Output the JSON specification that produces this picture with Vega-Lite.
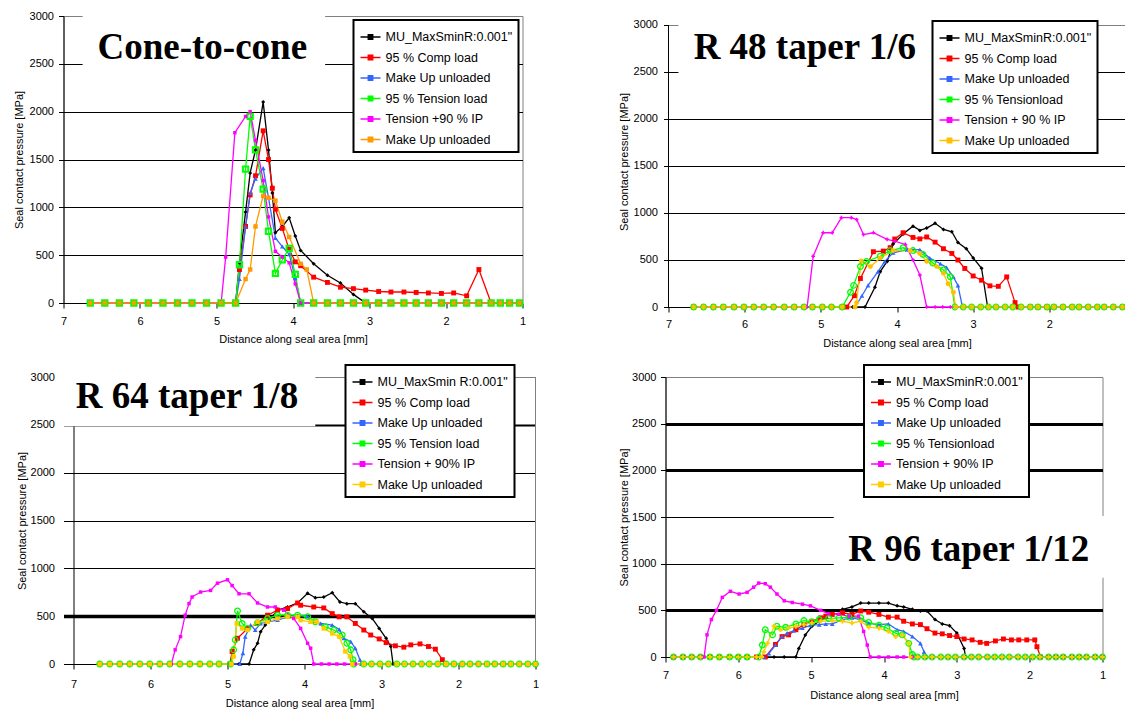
{
"$schema": "https://vega.github.io/schema/vega-lite/v6.json",
"background": "white",
"padding": {"top": 9, "left": 12.5, "right": 0, "bottom": 0},
"config": {"view": {"stroke": "#808080"}, "font": "Liberation Sans",
 "axis": {"labelFont": "Liberation Sans", "titleFont": "Liberation Sans", "labelFontSize": 11, "titleFontSize": 11, "titleFontWeight": "normal", "labelColor": "black", "titleColor": "black", "domainColor": "black", "tickColor": "black", "tickSize": 5, "labelFlush": false},
 "legend": {"orient": "none", "direction": "vertical", "symbolType": "M-1,0L1,0M-0.22,-0.22L0.22,-0.22L0.22,0.22L-0.22,0.22Z", "symbolSize": 400, "symbolStrokeWidth": 1.5, "labelFont": "Liberation Sans", "labelFontSize": 12.5, "labelColor": "black", "labelOffset": 4, "labelLimit": 300, "padding": 6, "rowPadding": 2.5, "strokeColor": "black", "strokeWidth": 2, "fillColor": "white", "cornerRadius": 0}},
"datasets": {
"p1": [
{"s":"a","x":6.65,"y":0},{"s":"a","x":6.46,"y":0},{"s":"a","x":6.27,"y":0},{"s":"a","x":6.08,"y":0},{"s":"a","x":5.89,"y":0},{"s":"a","x":5.7,"y":0},{"s":"a","x":5.51,"y":0},{"s":"a","x":5.32,"y":0},{"s":"a","x":5.13,"y":0},{"s":"a","x":4.94,"y":0},{"s":"a","x":4.75,"y":0},{"s":"a","x":4.7,"y":420},{"s":"a","x":4.62,"y":950},{"s":"a","x":4.56,"y":1360},{"s":"a","x":4.49,"y":1600},{"s":"a","x":4.39,"y":2100},{"s":"a","x":4.32,"y":1600},{"s":"a","x":4.27,"y":1150},{"s":"a","x":4.23,"y":735},{"s":"a","x":4.14,"y":800},{"s":"a","x":4.05,"y":890},{"s":"a","x":3.97,"y":700},{"s":"a","x":3.9,"y":550},{"s":"a","x":3.73,"y":410},{"s":"a","x":3.55,"y":290},{"s":"a","x":3.38,"y":210},{"s":"a","x":3.21,"y":90},{"s":"a","x":3.05,"y":0},{"s":"a","x":2.88,"y":0},{"s":"a","x":2.72,"y":0},{"s":"a","x":2.55,"y":0},{"s":"a","x":2.39,"y":0},{"s":"a","x":2.23,"y":0},{"s":"a","x":2.06,"y":0},{"s":"a","x":1.9,"y":0},{"s":"a","x":1.73,"y":0},{"s":"a","x":1.57,"y":0},{"s":"a","x":1.41,"y":0},{"s":"a","x":1.29,"y":0},{"s":"a","x":1.17,"y":0},{"s":"a","x":1.04,"y":0},
{"s":"b","x":6.65,"y":0},{"s":"b","x":6.46,"y":0},{"s":"b","x":6.27,"y":0},{"s":"b","x":6.08,"y":0},{"s":"b","x":5.89,"y":0},{"s":"b","x":5.7,"y":0},{"s":"b","x":5.51,"y":0},{"s":"b","x":5.32,"y":0},{"s":"b","x":5.13,"y":0},{"s":"b","x":4.94,"y":0},{"s":"b","x":4.75,"y":0},{"s":"b","x":4.7,"y":350},{"s":"b","x":4.62,"y":800},{"s":"b","x":4.56,"y":1130},{"s":"b","x":4.49,"y":1330},{"s":"b","x":4.39,"y":1800},{"s":"b","x":4.32,"y":1500},{"s":"b","x":4.27,"y":1200},{"s":"b","x":4.23,"y":980},{"s":"b","x":4.14,"y":780},{"s":"b","x":4.05,"y":560},{"s":"b","x":3.97,"y":430},{"s":"b","x":3.9,"y":390},{"s":"b","x":3.73,"y":270},{"s":"b","x":3.55,"y":215},{"s":"b","x":3.38,"y":165},{"s":"b","x":3.21,"y":150},{"s":"b","x":3.05,"y":135},{"s":"b","x":2.88,"y":120},{"s":"b","x":2.72,"y":115},{"s":"b","x":2.55,"y":115},{"s":"b","x":2.39,"y":110},{"s":"b","x":2.23,"y":105},{"s":"b","x":2.06,"y":100},{"s":"b","x":1.9,"y":105},{"s":"b","x":1.73,"y":75},{"s":"b","x":1.57,"y":350},{"s":"b","x":1.41,"y":0},{"s":"b","x":1.29,"y":0},{"s":"b","x":1.17,"y":0},{"s":"b","x":1.04,"y":0},
{"s":"c","x":6.65,"y":0},{"s":"c","x":6.46,"y":0},{"s":"c","x":6.27,"y":0},{"s":"c","x":6.08,"y":0},{"s":"c","x":5.89,"y":0},{"s":"c","x":5.7,"y":0},{"s":"c","x":5.51,"y":0},{"s":"c","x":5.32,"y":0},{"s":"c","x":5.13,"y":0},{"s":"c","x":4.94,"y":0},{"s":"c","x":4.75,"y":0},{"s":"c","x":4.7,"y":250},{"s":"c","x":4.62,"y":800},{"s":"c","x":4.56,"y":1150},{"s":"c","x":4.49,"y":1300},{"s":"c","x":4.39,"y":1410},{"s":"c","x":4.32,"y":1100},{"s":"c","x":4.23,"y":680},{"s":"c","x":4.14,"y":590},{"s":"c","x":4.05,"y":510},{"s":"c","x":3.97,"y":260},{"s":"c","x":3.9,"y":0},{"s":"c","x":3.73,"y":0},{"s":"c","x":3.55,"y":0},{"s":"c","x":3.38,"y":0},{"s":"c","x":3.21,"y":0},{"s":"c","x":3.05,"y":0},{"s":"c","x":2.88,"y":0},{"s":"c","x":2.72,"y":0},{"s":"c","x":2.55,"y":0},{"s":"c","x":2.39,"y":0},{"s":"c","x":2.23,"y":0},{"s":"c","x":2.06,"y":0},{"s":"c","x":1.9,"y":0},{"s":"c","x":1.73,"y":0},{"s":"c","x":1.57,"y":0},{"s":"c","x":1.41,"y":0},{"s":"c","x":1.29,"y":0},{"s":"c","x":1.17,"y":0},{"s":"c","x":1.04,"y":0},
{"s":"d","x":6.65,"y":0},{"s":"d","x":6.46,"y":0},{"s":"d","x":6.27,"y":0},{"s":"d","x":6.08,"y":0},{"s":"d","x":5.89,"y":0},{"s":"d","x":5.7,"y":0},{"s":"d","x":5.51,"y":0},{"s":"d","x":5.32,"y":0},{"s":"d","x":5.13,"y":0},{"s":"d","x":4.94,"y":0},{"s":"d","x":4.75,"y":0},{"s":"d","x":4.7,"y":400},{"s":"d","x":4.62,"y":1400},{"s":"d","x":4.56,"y":1950},{"s":"d","x":4.49,"y":1600},{"s":"d","x":4.39,"y":1190},{"s":"d","x":4.32,"y":750},{"s":"d","x":4.23,"y":310},{"s":"d","x":4.14,"y":450},{"s":"d","x":4.05,"y":570},{"s":"d","x":3.97,"y":300},{"s":"d","x":3.9,"y":0},{"s":"d","x":3.73,"y":0},{"s":"d","x":3.55,"y":0},{"s":"d","x":3.38,"y":0},{"s":"d","x":3.21,"y":0},{"s":"d","x":3.05,"y":0},{"s":"d","x":2.88,"y":0},{"s":"d","x":2.72,"y":0},{"s":"d","x":2.55,"y":0},{"s":"d","x":2.39,"y":0},{"s":"d","x":2.23,"y":0},{"s":"d","x":2.06,"y":0},{"s":"d","x":1.9,"y":0},{"s":"d","x":1.73,"y":0},{"s":"d","x":1.57,"y":0},{"s":"d","x":1.41,"y":0},{"s":"d","x":1.29,"y":0},{"s":"d","x":1.17,"y":0},{"s":"d","x":1.04,"y":0},
{"s":"e","x":6.65,"y":0},{"s":"e","x":6.46,"y":0},{"s":"e","x":6.27,"y":0},{"s":"e","x":6.08,"y":0},{"s":"e","x":5.89,"y":0},{"s":"e","x":5.7,"y":0},{"s":"e","x":5.51,"y":0},{"s":"e","x":5.32,"y":0},{"s":"e","x":5.13,"y":0},{"s":"e","x":4.94,"y":0},{"s":"e","x":4.88,"y":480},{"s":"e","x":4.76,"y":1780},{"s":"e","x":4.62,"y":1950},{"s":"e","x":4.56,"y":2000},{"s":"e","x":4.49,"y":1700},{"s":"e","x":4.39,"y":1280},{"s":"e","x":4.32,"y":900},{"s":"e","x":4.23,"y":540},{"s":"e","x":4.14,"y":480},{"s":"e","x":4.05,"y":420},{"s":"e","x":3.97,"y":200},{"s":"e","x":3.9,"y":0},{"s":"e","x":3.73,"y":0},{"s":"e","x":3.55,"y":0},{"s":"e","x":3.38,"y":0},{"s":"e","x":3.21,"y":0},{"s":"e","x":3.05,"y":0},{"s":"e","x":2.88,"y":0},{"s":"e","x":2.72,"y":0},{"s":"e","x":2.55,"y":0},{"s":"e","x":2.39,"y":0},{"s":"e","x":2.23,"y":0},{"s":"e","x":2.06,"y":0},{"s":"e","x":1.9,"y":0},{"s":"e","x":1.73,"y":0},{"s":"e","x":1.57,"y":0},{"s":"e","x":1.41,"y":0},{"s":"e","x":1.29,"y":0},{"s":"e","x":1.17,"y":0},{"s":"e","x":1.04,"y":0},
{"s":"f","x":6.65,"y":0},{"s":"f","x":6.46,"y":0},{"s":"f","x":6.27,"y":0},{"s":"f","x":6.08,"y":0},{"s":"f","x":5.89,"y":0},{"s":"f","x":5.7,"y":0},{"s":"f","x":5.51,"y":0},{"s":"f","x":5.32,"y":0},{"s":"f","x":5.13,"y":0},{"s":"f","x":4.94,"y":0},{"s":"f","x":4.75,"y":0},{"s":"f","x":4.62,"y":250},{"s":"f","x":4.56,"y":350},{"s":"f","x":4.49,"y":800},{"s":"f","x":4.39,"y":1120},{"s":"f","x":4.32,"y":1100},{"s":"f","x":4.23,"y":1070},{"s":"f","x":4.14,"y":850},{"s":"f","x":4.05,"y":690},{"s":"f","x":3.9,"y":410},{"s":"f","x":3.82,"y":350},{"s":"f","x":3.73,"y":0},{"s":"f","x":3.55,"y":0},{"s":"f","x":3.38,"y":0},{"s":"f","x":3.21,"y":0},{"s":"f","x":3.05,"y":0},{"s":"f","x":2.88,"y":0},{"s":"f","x":2.72,"y":0},{"s":"f","x":2.55,"y":0},{"s":"f","x":2.39,"y":0},{"s":"f","x":2.23,"y":0},{"s":"f","x":2.06,"y":0},{"s":"f","x":1.9,"y":0},{"s":"f","x":1.73,"y":0},{"s":"f","x":1.57,"y":0},{"s":"f","x":1.41,"y":0},{"s":"f","x":1.29,"y":0},{"s":"f","x":1.17,"y":0},{"s":"f","x":1.04,"y":0}
],
"p2": [
{"s":"a","x":6.67,"y":0},{"s":"a","x":6.54,"y":0},{"s":"a","x":6.41,"y":0},{"s":"a","x":6.28,"y":0},{"s":"a","x":6.14,"y":0},{"s":"a","x":6.01,"y":0},{"s":"a","x":5.88,"y":0},{"s":"a","x":5.75,"y":0},{"s":"a","x":5.62,"y":0},{"s":"a","x":5.48,"y":0},{"s":"a","x":5.35,"y":0},{"s":"a","x":5.22,"y":0},{"s":"a","x":5.11,"y":0},{"s":"a","x":4.98,"y":0},{"s":"a","x":4.86,"y":0},{"s":"a","x":4.72,"y":0},{"s":"a","x":4.58,"y":0},{"s":"a","x":4.42,"y":0},{"s":"a","x":4.29,"y":210},{"s":"a","x":4.22,"y":376},{"s":"a","x":4.13,"y":485},{"s":"a","x":4.05,"y":670},{"s":"a","x":3.92,"y":777},{"s":"a","x":3.79,"y":860},{"s":"a","x":3.7,"y":815},{"s":"a","x":3.61,"y":840},{"s":"a","x":3.5,"y":890},{"s":"a","x":3.39,"y":825},{"s":"a","x":3.28,"y":800},{"s":"a","x":3.2,"y":686},{"s":"a","x":3.09,"y":620},{"s":"a","x":3.0,"y":522},{"s":"a","x":2.89,"y":412},{"s":"a","x":2.81,"y":0},{"s":"a","x":2.7,"y":0},{"s":"a","x":2.58,"y":0},{"s":"a","x":2.48,"y":0},{"s":"a","x":2.37,"y":0},{"s":"a","x":2.25,"y":0},{"s":"a","x":2.15,"y":0},{"s":"a","x":2.03,"y":0},{"s":"a","x":1.94,"y":0},{"s":"a","x":1.82,"y":0},{"s":"a","x":1.7,"y":0},{"s":"a","x":1.61,"y":0},{"s":"a","x":1.49,"y":0},{"s":"a","x":1.37,"y":0},{"s":"a","x":1.28,"y":0},{"s":"a","x":1.16,"y":0},{"s":"a","x":1.04,"y":0},
{"s":"b","x":6.67,"y":0},{"s":"b","x":6.54,"y":0},{"s":"b","x":6.41,"y":0},{"s":"b","x":6.28,"y":0},{"s":"b","x":6.14,"y":0},{"s":"b","x":6.01,"y":0},{"s":"b","x":5.88,"y":0},{"s":"b","x":5.75,"y":0},{"s":"b","x":5.62,"y":0},{"s":"b","x":5.48,"y":0},{"s":"b","x":5.35,"y":0},{"s":"b","x":5.22,"y":0},{"s":"b","x":5.11,"y":0},{"s":"b","x":4.98,"y":0},{"s":"b","x":4.86,"y":0},{"s":"b","x":4.72,"y":0},{"s":"b","x":4.66,"y":0},{"s":"b","x":4.56,"y":120},{"s":"b","x":4.48,"y":303},{"s":"b","x":4.31,"y":588},{"s":"b","x":4.18,"y":595},{"s":"b","x":4.09,"y":631},{"s":"b","x":4.03,"y":723},{"s":"b","x":3.92,"y":790},{"s":"b","x":3.79,"y":740},{"s":"b","x":3.7,"y":725},{"s":"b","x":3.61,"y":745},{"s":"b","x":3.5,"y":690},{"s":"b","x":3.39,"y":620},{"s":"b","x":3.28,"y":570},{"s":"b","x":3.2,"y":500},{"s":"b","x":3.11,"y":410},{"s":"b","x":3.0,"y":330},{"s":"b","x":2.89,"y":285},{"s":"b","x":2.78,"y":225},{"s":"b","x":2.67,"y":220},{"s":"b","x":2.56,"y":320},{"s":"b","x":2.45,"y":47},{"s":"b","x":2.41,"y":0},{"s":"b","x":2.25,"y":0},{"s":"b","x":2.15,"y":0},{"s":"b","x":2.03,"y":0},{"s":"b","x":1.94,"y":0},{"s":"b","x":1.82,"y":0},{"s":"b","x":1.7,"y":0},{"s":"b","x":1.61,"y":0},{"s":"b","x":1.49,"y":0},{"s":"b","x":1.37,"y":0},{"s":"b","x":1.28,"y":0},{"s":"b","x":1.16,"y":0},{"s":"b","x":1.04,"y":0},
{"s":"c","x":6.67,"y":0},{"s":"c","x":6.54,"y":0},{"s":"c","x":6.41,"y":0},{"s":"c","x":6.28,"y":0},{"s":"c","x":6.14,"y":0},{"s":"c","x":6.01,"y":0},{"s":"c","x":5.88,"y":0},{"s":"c","x":5.75,"y":0},{"s":"c","x":5.62,"y":0},{"s":"c","x":5.48,"y":0},{"s":"c","x":5.35,"y":0},{"s":"c","x":5.22,"y":0},{"s":"c","x":5.11,"y":0},{"s":"c","x":4.98,"y":0},{"s":"c","x":4.86,"y":0},{"s":"c","x":4.72,"y":0},{"s":"c","x":4.55,"y":0},{"s":"c","x":4.46,"y":120},{"s":"c","x":4.38,"y":230},{"s":"c","x":4.25,"y":376},{"s":"c","x":4.16,"y":485},{"s":"c","x":4.05,"y":577},{"s":"c","x":3.87,"y":610},{"s":"c","x":3.7,"y":610},{"s":"c","x":3.57,"y":520},{"s":"c","x":3.43,"y":460},{"s":"c","x":3.35,"y":420},{"s":"c","x":3.26,"y":321},{"s":"c","x":3.2,"y":230},{"s":"c","x":3.14,"y":0},{"s":"c","x":3.02,"y":0},{"s":"c","x":2.9,"y":0},{"s":"c","x":2.8,"y":0},{"s":"c","x":2.7,"y":0},{"s":"c","x":2.58,"y":0},{"s":"c","x":2.48,"y":0},{"s":"c","x":2.37,"y":0},{"s":"c","x":2.25,"y":0},{"s":"c","x":2.15,"y":0},{"s":"c","x":2.03,"y":0},{"s":"c","x":1.94,"y":0},{"s":"c","x":1.82,"y":0},{"s":"c","x":1.7,"y":0},{"s":"c","x":1.61,"y":0},{"s":"c","x":1.49,"y":0},{"s":"c","x":1.37,"y":0},{"s":"c","x":1.28,"y":0},{"s":"c","x":1.16,"y":0},{"s":"c","x":1.04,"y":0},
{"s":"d","x":6.67,"y":0},{"s":"d","x":6.54,"y":0},{"s":"d","x":6.41,"y":0},{"s":"d","x":6.28,"y":0},{"s":"d","x":6.14,"y":0},{"s":"d","x":6.01,"y":0},{"s":"d","x":5.88,"y":0},{"s":"d","x":5.75,"y":0},{"s":"d","x":5.62,"y":0},{"s":"d","x":5.48,"y":0},{"s":"d","x":5.35,"y":0},{"s":"d","x":5.22,"y":0},{"s":"d","x":5.11,"y":0},{"s":"d","x":4.98,"y":0},{"s":"d","x":4.86,"y":0},{"s":"d","x":4.72,"y":0},{"s":"d","x":4.61,"y":157},{"s":"d","x":4.57,"y":230},{"s":"d","x":4.48,"y":430},{"s":"d","x":4.4,"y":485},{"s":"d","x":4.22,"y":540},{"s":"d","x":4.09,"y":600},{"s":"d","x":3.92,"y":630},{"s":"d","x":3.79,"y":600},{"s":"d","x":3.66,"y":560},{"s":"d","x":3.53,"y":467},{"s":"d","x":3.39,"y":394},{"s":"d","x":3.3,"y":321},{"s":"d","x":3.24,"y":0},{"s":"d","x":3.13,"y":0},{"s":"d","x":3.02,"y":0},{"s":"d","x":2.9,"y":0},{"s":"d","x":2.8,"y":0},{"s":"d","x":2.7,"y":0},{"s":"d","x":2.58,"y":0},{"s":"d","x":2.48,"y":0},{"s":"d","x":2.37,"y":0},{"s":"d","x":2.25,"y":0},{"s":"d","x":2.15,"y":0},{"s":"d","x":2.03,"y":0},{"s":"d","x":1.94,"y":0},{"s":"d","x":1.82,"y":0},{"s":"d","x":1.7,"y":0},{"s":"d","x":1.61,"y":0},{"s":"d","x":1.49,"y":0},{"s":"d","x":1.37,"y":0},{"s":"d","x":1.28,"y":0},{"s":"d","x":1.16,"y":0},{"s":"d","x":1.04,"y":0},
{"s":"e","x":6.67,"y":0},{"s":"e","x":6.54,"y":0},{"s":"e","x":6.41,"y":0},{"s":"e","x":6.28,"y":0},{"s":"e","x":6.14,"y":0},{"s":"e","x":6.01,"y":0},{"s":"e","x":5.88,"y":0},{"s":"e","x":5.75,"y":0},{"s":"e","x":5.62,"y":0},{"s":"e","x":5.48,"y":0},{"s":"e","x":5.35,"y":0},{"s":"e","x":5.22,"y":0},{"s":"e","x":5.18,"y":0},{"s":"e","x":5.1,"y":540},{"s":"e","x":4.97,"y":790},{"s":"e","x":4.85,"y":790},{"s":"e","x":4.73,"y":950},{"s":"e","x":4.6,"y":950},{"s":"e","x":4.53,"y":930},{"s":"e","x":4.44,"y":770},{"s":"e","x":4.31,"y":790},{"s":"e","x":4.13,"y":720},{"s":"e","x":4.03,"y":700},{"s":"e","x":3.89,"y":665},{"s":"e","x":3.79,"y":500},{"s":"e","x":3.7,"y":340},{"s":"e","x":3.61,"y":0},{"s":"e","x":3.5,"y":0},{"s":"e","x":3.4,"y":0},{"s":"e","x":3.3,"y":0},{"s":"e","x":3.22,"y":0},{"s":"e","x":3.13,"y":0},{"s":"e","x":3.02,"y":0},{"s":"e","x":2.9,"y":0},{"s":"e","x":2.8,"y":0},{"s":"e","x":2.7,"y":0},{"s":"e","x":2.58,"y":0},{"s":"e","x":2.48,"y":0},{"s":"e","x":2.37,"y":0},{"s":"e","x":2.25,"y":0},{"s":"e","x":2.15,"y":0},{"s":"e","x":2.03,"y":0},{"s":"e","x":1.94,"y":0},{"s":"e","x":1.82,"y":0},{"s":"e","x":1.7,"y":0},{"s":"e","x":1.61,"y":0},{"s":"e","x":1.49,"y":0},{"s":"e","x":1.37,"y":0},{"s":"e","x":1.28,"y":0},{"s":"e","x":1.16,"y":0},{"s":"e","x":1.04,"y":0},
{"s":"f","x":6.67,"y":0},{"s":"f","x":6.54,"y":0},{"s":"f","x":6.41,"y":0},{"s":"f","x":6.28,"y":0},{"s":"f","x":6.14,"y":0},{"s":"f","x":6.01,"y":0},{"s":"f","x":5.88,"y":0},{"s":"f","x":5.75,"y":0},{"s":"f","x":5.62,"y":0},{"s":"f","x":5.48,"y":0},{"s":"f","x":5.35,"y":0},{"s":"f","x":5.22,"y":0},{"s":"f","x":5.11,"y":0},{"s":"f","x":4.98,"y":0},{"s":"f","x":4.86,"y":0},{"s":"f","x":4.72,"y":0},{"s":"f","x":4.55,"y":0},{"s":"f","x":4.53,"y":47},{"s":"f","x":4.47,"y":490},{"s":"f","x":4.35,"y":430},{"s":"f","x":4.22,"y":522},{"s":"f","x":4.05,"y":600},{"s":"f","x":3.83,"y":600},{"s":"f","x":3.7,"y":570},{"s":"f","x":3.61,"y":485},{"s":"f","x":3.48,"y":430},{"s":"f","x":3.39,"y":358},{"s":"f","x":3.33,"y":248},{"s":"f","x":3.26,"y":157},{"s":"f","x":3.23,"y":0},{"s":"f","x":3.13,"y":0},{"s":"f","x":3.02,"y":0},{"s":"f","x":2.9,"y":0},{"s":"f","x":2.8,"y":0},{"s":"f","x":2.7,"y":0},{"s":"f","x":2.58,"y":0},{"s":"f","x":2.48,"y":0},{"s":"f","x":2.37,"y":0},{"s":"f","x":2.25,"y":0},{"s":"f","x":2.15,"y":0},{"s":"f","x":2.03,"y":0},{"s":"f","x":1.94,"y":0},{"s":"f","x":1.82,"y":0},{"s":"f","x":1.7,"y":0},{"s":"f","x":1.61,"y":0},{"s":"f","x":1.49,"y":0},{"s":"f","x":1.37,"y":0},{"s":"f","x":1.28,"y":0},{"s":"f","x":1.16,"y":0},{"s":"f","x":1.04,"y":0}
],
"p3": [
{"s":"a","x":6.66,"y":0},{"s":"a","x":6.53,"y":0},{"s":"a","x":6.4,"y":0},{"s":"a","x":6.27,"y":0},{"s":"a","x":6.14,"y":0},{"s":"a","x":6.01,"y":0},{"s":"a","x":5.88,"y":0},{"s":"a","x":5.75,"y":0},{"s":"a","x":5.62,"y":0},{"s":"a","x":5.49,"y":0},{"s":"a","x":5.36,"y":0},{"s":"a","x":5.23,"y":0},{"s":"a","x":5.11,"y":0},{"s":"a","x":4.98,"y":0},{"s":"a","x":4.85,"y":0},{"s":"a","x":4.72,"y":0},{"s":"a","x":4.66,"y":148},{"s":"a","x":4.61,"y":217},{"s":"a","x":4.57,"y":338},{"s":"a","x":4.51,"y":407},{"s":"a","x":4.46,"y":459},{"s":"a","x":4.35,"y":562},{"s":"a","x":4.22,"y":596},{"s":"a","x":4.09,"y":638},{"s":"a","x":3.96,"y":740},{"s":"a","x":3.86,"y":693},{"s":"a","x":3.75,"y":700},{"s":"a","x":3.64,"y":745},{"s":"a","x":3.54,"y":648},{"s":"a","x":3.45,"y":631},{"s":"a","x":3.34,"y":631},{"s":"a","x":3.23,"y":545},{"s":"a","x":3.12,"y":476},{"s":"a","x":3.03,"y":372},{"s":"a","x":2.94,"y":269},{"s":"a","x":2.88,"y":183},{"s":"a","x":2.85,"y":0},{"s":"a","x":2.7,"y":0},{"s":"a","x":2.59,"y":0},{"s":"a","x":2.48,"y":0},{"s":"a","x":2.38,"y":0},{"s":"a","x":2.27,"y":0},{"s":"a","x":2.16,"y":0},{"s":"a","x":2.06,"y":0},{"s":"a","x":1.95,"y":0},{"s":"a","x":1.85,"y":0},{"s":"a","x":1.74,"y":0},{"s":"a","x":1.63,"y":0},{"s":"a","x":1.53,"y":0},{"s":"a","x":1.42,"y":0},{"s":"a","x":1.32,"y":0},{"s":"a","x":1.21,"y":0},{"s":"a","x":1.1,"y":0},{"s":"a","x":1.0,"y":0},
{"s":"b","x":6.66,"y":0},{"s":"b","x":6.53,"y":0},{"s":"b","x":6.4,"y":0},{"s":"b","x":6.27,"y":0},{"s":"b","x":6.14,"y":0},{"s":"b","x":6.01,"y":0},{"s":"b","x":5.88,"y":0},{"s":"b","x":5.75,"y":0},{"s":"b","x":5.62,"y":0},{"s":"b","x":5.49,"y":0},{"s":"b","x":5.36,"y":0},{"s":"b","x":5.23,"y":0},{"s":"b","x":5.11,"y":0},{"s":"b","x":4.97,"y":0},{"s":"b","x":4.94,"y":131},{"s":"b","x":4.87,"y":269},{"s":"b","x":4.74,"y":372},{"s":"b","x":4.61,"y":424},{"s":"b","x":4.48,"y":510},{"s":"b","x":4.35,"y":562},{"s":"b","x":4.22,"y":579},{"s":"b","x":4.09,"y":638},{"s":"b","x":4.05,"y":614},{"s":"b","x":3.88,"y":596},{"s":"b","x":3.75,"y":586},{"s":"b","x":3.64,"y":527},{"s":"b","x":3.55,"y":493},{"s":"b","x":3.45,"y":493},{"s":"b","x":3.34,"y":424},{"s":"b","x":3.23,"y":355},{"s":"b","x":3.14,"y":303},{"s":"b","x":3.03,"y":262},{"s":"b","x":2.94,"y":224},{"s":"b","x":2.82,"y":190},{"s":"b","x":2.71,"y":176},{"s":"b","x":2.62,"y":200},{"s":"b","x":2.5,"y":210},{"s":"b","x":2.39,"y":183},{"s":"b","x":2.3,"y":155},{"s":"b","x":2.21,"y":45},{"s":"b","x":2.17,"y":0},{"s":"b","x":2.06,"y":0},{"s":"b","x":1.95,"y":0},{"s":"b","x":1.85,"y":0},{"s":"b","x":1.74,"y":0},{"s":"b","x":1.63,"y":0},{"s":"b","x":1.53,"y":0},{"s":"b","x":1.42,"y":0},{"s":"b","x":1.32,"y":0},{"s":"b","x":1.21,"y":0},{"s":"b","x":1.1,"y":0},{"s":"b","x":1.0,"y":0},
{"s":"c","x":6.66,"y":0},{"s":"c","x":6.53,"y":0},{"s":"c","x":6.4,"y":0},{"s":"c","x":6.27,"y":0},{"s":"c","x":6.14,"y":0},{"s":"c","x":6.01,"y":0},{"s":"c","x":5.88,"y":0},{"s":"c","x":5.75,"y":0},{"s":"c","x":5.62,"y":0},{"s":"c","x":5.49,"y":0},{"s":"c","x":5.36,"y":0},{"s":"c","x":5.23,"y":0},{"s":"c","x":5.11,"y":0},{"s":"c","x":4.98,"y":0},{"s":"c","x":4.84,"y":0},{"s":"c","x":4.8,"y":114},{"s":"c","x":4.77,"y":286},{"s":"c","x":4.7,"y":407},{"s":"c","x":4.64,"y":355},{"s":"c","x":4.57,"y":424},{"s":"c","x":4.48,"y":441},{"s":"c","x":4.35,"y":459},{"s":"c","x":4.22,"y":493},{"s":"c","x":4.09,"y":510},{"s":"c","x":3.96,"y":500},{"s":"c","x":3.92,"y":441},{"s":"c","x":3.79,"y":424},{"s":"c","x":3.64,"y":407},{"s":"c","x":3.55,"y":362},{"s":"c","x":3.49,"y":269},{"s":"c","x":3.4,"y":234},{"s":"c","x":3.34,"y":165},{"s":"c","x":3.28,"y":45},{"s":"c","x":3.26,"y":0},{"s":"c","x":3.13,"y":0},{"s":"c","x":3.02,"y":0},{"s":"c","x":2.91,"y":0},{"s":"c","x":2.8,"y":0},{"s":"c","x":2.7,"y":0},{"s":"c","x":2.59,"y":0},{"s":"c","x":2.48,"y":0},{"s":"c","x":2.38,"y":0},{"s":"c","x":2.27,"y":0},{"s":"c","x":2.16,"y":0},{"s":"c","x":2.06,"y":0},{"s":"c","x":1.95,"y":0},{"s":"c","x":1.85,"y":0},{"s":"c","x":1.74,"y":0},{"s":"c","x":1.63,"y":0},{"s":"c","x":1.53,"y":0},{"s":"c","x":1.42,"y":0},{"s":"c","x":1.32,"y":0},{"s":"c","x":1.21,"y":0},{"s":"c","x":1.1,"y":0},{"s":"c","x":1.0,"y":0},
{"s":"d","x":6.66,"y":0},{"s":"d","x":6.53,"y":0},{"s":"d","x":6.4,"y":0},{"s":"d","x":6.27,"y":0},{"s":"d","x":6.14,"y":0},{"s":"d","x":6.01,"y":0},{"s":"d","x":5.88,"y":0},{"s":"d","x":5.75,"y":0},{"s":"d","x":5.62,"y":0},{"s":"d","x":5.49,"y":0},{"s":"d","x":5.36,"y":0},{"s":"d","x":5.23,"y":0},{"s":"d","x":5.11,"y":0},{"s":"d","x":4.96,"y":0},{"s":"d","x":4.92,"y":148},{"s":"d","x":4.9,"y":252},{"s":"d","x":4.87,"y":555},{"s":"d","x":4.81,"y":424},{"s":"d","x":4.74,"y":372},{"s":"d","x":4.61,"y":431},{"s":"d","x":4.48,"y":476},{"s":"d","x":4.35,"y":510},{"s":"d","x":4.22,"y":510},{"s":"d","x":4.09,"y":510},{"s":"d","x":3.96,"y":495},{"s":"d","x":3.86,"y":441},{"s":"d","x":3.73,"y":390},{"s":"d","x":3.62,"y":355},{"s":"d","x":3.51,"y":303},{"s":"d","x":3.45,"y":217},{"s":"d","x":3.4,"y":148},{"s":"d","x":3.37,"y":45},{"s":"d","x":3.36,"y":0},{"s":"d","x":3.23,"y":0},{"s":"d","x":3.13,"y":0},{"s":"d","x":3.02,"y":0},{"s":"d","x":2.91,"y":0},{"s":"d","x":2.8,"y":0},{"s":"d","x":2.7,"y":0},{"s":"d","x":2.59,"y":0},{"s":"d","x":2.48,"y":0},{"s":"d","x":2.38,"y":0},{"s":"d","x":2.27,"y":0},{"s":"d","x":2.16,"y":0},{"s":"d","x":2.06,"y":0},{"s":"d","x":1.95,"y":0},{"s":"d","x":1.85,"y":0},{"s":"d","x":1.74,"y":0},{"s":"d","x":1.63,"y":0},{"s":"d","x":1.53,"y":0},{"s":"d","x":1.42,"y":0},{"s":"d","x":1.32,"y":0},{"s":"d","x":1.21,"y":0},{"s":"d","x":1.1,"y":0},{"s":"d","x":1.0,"y":0},
{"s":"e","x":6.66,"y":0},{"s":"e","x":6.53,"y":0},{"s":"e","x":6.4,"y":0},{"s":"e","x":6.27,"y":0},{"s":"e","x":6.14,"y":0},{"s":"e","x":6.01,"y":0},{"s":"e","x":5.88,"y":0},{"s":"e","x":5.73,"y":0},{"s":"e","x":5.68,"y":148},{"s":"e","x":5.61,"y":286},{"s":"e","x":5.55,"y":510},{"s":"e","x":5.5,"y":631},{"s":"e","x":5.46,"y":700},{"s":"e","x":5.35,"y":752},{"s":"e","x":5.22,"y":769},{"s":"e","x":5.13,"y":845},{"s":"e","x":5.0,"y":880},{"s":"e","x":4.94,"y":820},{"s":"e","x":4.85,"y":734},{"s":"e","x":4.72,"y":734},{"s":"e","x":4.61,"y":638},{"s":"e","x":4.48,"y":596},{"s":"e","x":4.38,"y":596},{"s":"e","x":4.27,"y":562},{"s":"e","x":4.14,"y":476},{"s":"e","x":4.05,"y":372},{"s":"e","x":3.96,"y":217},{"s":"e","x":3.92,"y":165},{"s":"e","x":3.88,"y":0},{"s":"e","x":3.78,"y":0},{"s":"e","x":3.68,"y":0},{"s":"e","x":3.58,"y":0},{"s":"e","x":3.48,"y":0},{"s":"e","x":3.34,"y":0},{"s":"e","x":3.23,"y":0},{"s":"e","x":3.13,"y":0},{"s":"e","x":3.02,"y":0},{"s":"e","x":2.91,"y":0},{"s":"e","x":2.8,"y":0},{"s":"e","x":2.7,"y":0},{"s":"e","x":2.59,"y":0},{"s":"e","x":2.48,"y":0},{"s":"e","x":2.38,"y":0},{"s":"e","x":2.27,"y":0},{"s":"e","x":2.16,"y":0},{"s":"e","x":2.06,"y":0},{"s":"e","x":1.95,"y":0},{"s":"e","x":1.85,"y":0},{"s":"e","x":1.74,"y":0},{"s":"e","x":1.63,"y":0},{"s":"e","x":1.53,"y":0},{"s":"e","x":1.42,"y":0},{"s":"e","x":1.32,"y":0},{"s":"e","x":1.21,"y":0},{"s":"e","x":1.1,"y":0},{"s":"e","x":1.0,"y":0},
{"s":"f","x":6.66,"y":0},{"s":"f","x":6.53,"y":0},{"s":"f","x":6.4,"y":0},{"s":"f","x":6.27,"y":0},{"s":"f","x":6.14,"y":0},{"s":"f","x":6.01,"y":0},{"s":"f","x":5.88,"y":0},{"s":"f","x":5.75,"y":0},{"s":"f","x":5.62,"y":0},{"s":"f","x":5.49,"y":0},{"s":"f","x":5.36,"y":0},{"s":"f","x":5.23,"y":0},{"s":"f","x":5.11,"y":0},{"s":"f","x":4.95,"y":0},{"s":"f","x":4.92,"y":79},{"s":"f","x":4.88,"y":424},{"s":"f","x":4.81,"y":372},{"s":"f","x":4.74,"y":355},{"s":"f","x":4.61,"y":441},{"s":"f","x":4.48,"y":441},{"s":"f","x":4.35,"y":476},{"s":"f","x":4.22,"y":493},{"s":"f","x":4.09,"y":493},{"s":"f","x":4.05,"y":459},{"s":"f","x":3.92,"y":441},{"s":"f","x":3.84,"y":441},{"s":"f","x":3.75,"y":372},{"s":"f","x":3.64,"y":320},{"s":"f","x":3.55,"y":286},{"s":"f","x":3.47,"y":131},{"s":"f","x":3.41,"y":79},{"s":"f","x":3.38,"y":0},{"s":"f","x":3.23,"y":0},{"s":"f","x":3.13,"y":0},{"s":"f","x":3.02,"y":0},{"s":"f","x":2.91,"y":0},{"s":"f","x":2.8,"y":0},{"s":"f","x":2.7,"y":0},{"s":"f","x":2.59,"y":0},{"s":"f","x":2.48,"y":0},{"s":"f","x":2.38,"y":0},{"s":"f","x":2.27,"y":0},{"s":"f","x":2.16,"y":0},{"s":"f","x":2.06,"y":0},{"s":"f","x":1.95,"y":0},{"s":"f","x":1.85,"y":0},{"s":"f","x":1.74,"y":0},{"s":"f","x":1.63,"y":0},{"s":"f","x":1.53,"y":0},{"s":"f","x":1.42,"y":0},{"s":"f","x":1.32,"y":0},{"s":"f","x":1.21,"y":0},{"s":"f","x":1.1,"y":0},{"s":"f","x":1.0,"y":0}
],
"p4": [
{"s":"a","x":6.89,"y":0},{"s":"a","x":6.76,"y":0},{"s":"a","x":6.64,"y":0},{"s":"a","x":6.52,"y":0},{"s":"a","x":6.39,"y":0},{"s":"a","x":6.26,"y":0},{"s":"a","x":6.12,"y":0},{"s":"a","x":6.0,"y":0},{"s":"a","x":5.88,"y":0},{"s":"a","x":5.75,"y":0},{"s":"a","x":5.63,"y":0},{"s":"a","x":5.51,"y":0},{"s":"a","x":5.37,"y":0},{"s":"a","x":5.21,"y":0},{"s":"a","x":5.17,"y":91},{"s":"a","x":5.08,"y":237},{"s":"a","x":4.99,"y":329},{"s":"a","x":4.89,"y":383},{"s":"a","x":4.8,"y":427},{"s":"a","x":4.71,"y":493},{"s":"a","x":4.57,"y":511},{"s":"a","x":4.44,"y":537},{"s":"a","x":4.32,"y":578},{"s":"a","x":4.21,"y":578},{"s":"a","x":4.07,"y":578},{"s":"a","x":3.94,"y":578},{"s":"a","x":3.82,"y":548},{"s":"a","x":3.73,"y":537},{"s":"a","x":3.61,"y":511},{"s":"a","x":3.5,"y":493},{"s":"a","x":3.41,"y":493},{"s":"a","x":3.3,"y":401},{"s":"a","x":3.2,"y":354},{"s":"a","x":3.1,"y":336},{"s":"a","x":3.0,"y":256},{"s":"a","x":2.9,"y":91},{"s":"a","x":2.88,"y":0},{"s":"a","x":2.8,"y":0},{"s":"a","x":2.7,"y":0},{"s":"a","x":2.58,"y":0},{"s":"a","x":2.48,"y":0},{"s":"a","x":2.38,"y":0},{"s":"a","x":2.28,"y":0},{"s":"a","x":2.16,"y":0},{"s":"a","x":2.06,"y":0},{"s":"a","x":1.96,"y":0},{"s":"a","x":1.86,"y":0},{"s":"a","x":1.74,"y":0},{"s":"a","x":1.64,"y":0},{"s":"a","x":1.54,"y":0},{"s":"a","x":1.42,"y":0},{"s":"a","x":1.32,"y":0},{"s":"a","x":1.22,"y":0},{"s":"a","x":1.1,"y":0},{"s":"a","x":1.0,"y":0},
{"s":"b","x":6.89,"y":0},{"s":"b","x":6.76,"y":0},{"s":"b","x":6.64,"y":0},{"s":"b","x":6.52,"y":0},{"s":"b","x":6.39,"y":0},{"s":"b","x":6.26,"y":0},{"s":"b","x":6.12,"y":0},{"s":"b","x":6.0,"y":0},{"s":"b","x":5.88,"y":0},{"s":"b","x":5.75,"y":0},{"s":"b","x":5.63,"y":0},{"s":"b","x":5.49,"y":135},{"s":"b","x":5.4,"y":219},{"s":"b","x":5.31,"y":237},{"s":"b","x":5.21,"y":292},{"s":"b","x":5.1,"y":347},{"s":"b","x":4.99,"y":383},{"s":"b","x":4.87,"y":420},{"s":"b","x":4.8,"y":438},{"s":"b","x":4.71,"y":456},{"s":"b","x":4.57,"y":474},{"s":"b","x":4.44,"y":456},{"s":"b","x":4.32,"y":493},{"s":"b","x":4.21,"y":480},{"s":"b","x":4.07,"y":456},{"s":"b","x":3.94,"y":427},{"s":"b","x":3.82,"y":427},{"s":"b","x":3.73,"y":383},{"s":"b","x":3.61,"y":354},{"s":"b","x":3.5,"y":347},{"s":"b","x":3.41,"y":303},{"s":"b","x":3.3,"y":256},{"s":"b","x":3.2,"y":248},{"s":"b","x":3.1,"y":230},{"s":"b","x":3.0,"y":219},{"s":"b","x":2.9,"y":193},{"s":"b","x":2.79,"y":183},{"s":"b","x":2.68,"y":157},{"s":"b","x":2.59,"y":146},{"s":"b","x":2.47,"y":172},{"s":"b","x":2.36,"y":193},{"s":"b","x":2.25,"y":183},{"s":"b","x":2.15,"y":183},{"s":"b","x":2.04,"y":183},{"s":"b","x":1.93,"y":183},{"s":"b","x":1.9,"y":110},{"s":"b","x":1.85,"y":0},{"s":"b","x":1.74,"y":0},{"s":"b","x":1.64,"y":0},{"s":"b","x":1.54,"y":0},{"s":"b","x":1.42,"y":0},{"s":"b","x":1.32,"y":0},{"s":"b","x":1.22,"y":0},{"s":"b","x":1.1,"y":0},{"s":"b","x":1.0,"y":0},
{"s":"c","x":6.89,"y":0},{"s":"c","x":6.76,"y":0},{"s":"c","x":6.64,"y":0},{"s":"c","x":6.52,"y":0},{"s":"c","x":6.39,"y":0},{"s":"c","x":6.26,"y":0},{"s":"c","x":6.12,"y":0},{"s":"c","x":6.0,"y":0},{"s":"c","x":5.88,"y":0},{"s":"c","x":5.75,"y":0},{"s":"c","x":5.65,"y":0},{"s":"c","x":5.58,"y":37},{"s":"c","x":5.49,"y":128},{"s":"c","x":5.4,"y":219},{"s":"c","x":5.33,"y":256},{"s":"c","x":5.24,"y":281},{"s":"c","x":5.12,"y":310},{"s":"c","x":5.01,"y":340},{"s":"c","x":4.89,"y":347},{"s":"c","x":4.8,"y":354},{"s":"c","x":4.71,"y":354},{"s":"c","x":4.57,"y":401},{"s":"c","x":4.44,"y":420},{"s":"c","x":4.32,"y":401},{"s":"c","x":4.21,"y":360},{"s":"c","x":4.07,"y":347},{"s":"c","x":3.94,"y":354},{"s":"c","x":3.82,"y":292},{"s":"c","x":3.73,"y":274},{"s":"c","x":3.61,"y":219},{"s":"c","x":3.5,"y":146},{"s":"c","x":3.45,"y":55},{"s":"c","x":3.42,"y":0},{"s":"c","x":3.34,"y":0},{"s":"c","x":3.22,"y":0},{"s":"c","x":3.12,"y":0},{"s":"c","x":3.02,"y":0},{"s":"c","x":2.9,"y":0},{"s":"c","x":2.8,"y":0},{"s":"c","x":2.7,"y":0},{"s":"c","x":2.58,"y":0},{"s":"c","x":2.48,"y":0},{"s":"c","x":2.38,"y":0},{"s":"c","x":2.28,"y":0},{"s":"c","x":2.16,"y":0},{"s":"c","x":2.06,"y":0},{"s":"c","x":1.96,"y":0},{"s":"c","x":1.86,"y":0},{"s":"c","x":1.74,"y":0},{"s":"c","x":1.64,"y":0},{"s":"c","x":1.54,"y":0},{"s":"c","x":1.42,"y":0},{"s":"c","x":1.32,"y":0},{"s":"c","x":1.22,"y":0},{"s":"c","x":1.1,"y":0},{"s":"c","x":1.0,"y":0},
{"s":"d","x":6.89,"y":0},{"s":"d","x":6.76,"y":0},{"s":"d","x":6.64,"y":0},{"s":"d","x":6.52,"y":0},{"s":"d","x":6.39,"y":0},{"s":"d","x":6.26,"y":0},{"s":"d","x":6.12,"y":0},{"s":"d","x":6.0,"y":0},{"s":"d","x":5.88,"y":0},{"s":"d","x":5.72,"y":0},{"s":"d","x":5.67,"y":128},{"s":"d","x":5.63,"y":292},{"s":"d","x":5.53,"y":237},{"s":"d","x":5.47,"y":329},{"s":"d","x":5.35,"y":318},{"s":"d","x":5.21,"y":354},{"s":"d","x":5.1,"y":390},{"s":"d","x":4.99,"y":376},{"s":"d","x":4.89,"y":401},{"s":"d","x":4.76,"y":412},{"s":"d","x":4.62,"y":420},{"s":"d","x":4.48,"y":427},{"s":"d","x":4.32,"y":420},{"s":"d","x":4.21,"y":370},{"s":"d","x":4.07,"y":340},{"s":"d","x":3.96,"y":310},{"s":"d","x":3.84,"y":256},{"s":"d","x":3.75,"y":237},{"s":"d","x":3.66,"y":146},{"s":"d","x":3.61,"y":26},{"s":"d","x":3.59,"y":0},{"s":"d","x":3.54,"y":0},{"s":"d","x":3.44,"y":0},{"s":"d","x":3.34,"y":0},{"s":"d","x":3.22,"y":0},{"s":"d","x":3.12,"y":0},{"s":"d","x":3.02,"y":0},{"s":"d","x":2.9,"y":0},{"s":"d","x":2.8,"y":0},{"s":"d","x":2.7,"y":0},{"s":"d","x":2.58,"y":0},{"s":"d","x":2.48,"y":0},{"s":"d","x":2.38,"y":0},{"s":"d","x":2.28,"y":0},{"s":"d","x":2.16,"y":0},{"s":"d","x":2.06,"y":0},{"s":"d","x":1.96,"y":0},{"s":"d","x":1.86,"y":0},{"s":"d","x":1.74,"y":0},{"s":"d","x":1.64,"y":0},{"s":"d","x":1.54,"y":0},{"s":"d","x":1.42,"y":0},{"s":"d","x":1.32,"y":0},{"s":"d","x":1.22,"y":0},{"s":"d","x":1.1,"y":0},{"s":"d","x":1.0,"y":0},
{"s":"e","x":6.89,"y":0},{"s":"e","x":6.76,"y":0},{"s":"e","x":6.64,"y":0},{"s":"e","x":6.52,"y":0},{"s":"e","x":6.47,"y":0},{"s":"e","x":6.43,"y":237},{"s":"e","x":6.37,"y":401},{"s":"e","x":6.3,"y":500},{"s":"e","x":6.22,"y":639},{"s":"e","x":6.11,"y":704},{"s":"e","x":5.99,"y":675},{"s":"e","x":5.88,"y":693},{"s":"e","x":5.79,"y":748},{"s":"e","x":5.72,"y":792},{"s":"e","x":5.63,"y":785},{"s":"e","x":5.56,"y":748},{"s":"e","x":5.47,"y":675},{"s":"e","x":5.37,"y":602},{"s":"e","x":5.26,"y":584},{"s":"e","x":5.12,"y":566},{"s":"e","x":5.01,"y":548},{"s":"e","x":4.87,"y":500},{"s":"e","x":4.76,"y":464},{"s":"e","x":4.62,"y":456},{"s":"e","x":4.48,"y":438},{"s":"e","x":4.35,"y":438},{"s":"e","x":4.28,"y":274},{"s":"e","x":4.23,"y":128},{"s":"e","x":4.19,"y":0},{"s":"e","x":4.07,"y":0},{"s":"e","x":3.94,"y":0},{"s":"e","x":3.82,"y":0},{"s":"e","x":3.73,"y":0},{"s":"e","x":3.61,"y":0},{"s":"e","x":3.54,"y":0},{"s":"e","x":3.44,"y":0},{"s":"e","x":3.34,"y":0},{"s":"e","x":3.22,"y":0},{"s":"e","x":3.12,"y":0},{"s":"e","x":3.02,"y":0},{"s":"e","x":2.9,"y":0},{"s":"e","x":2.8,"y":0},{"s":"e","x":2.7,"y":0},{"s":"e","x":2.58,"y":0},{"s":"e","x":2.48,"y":0},{"s":"e","x":2.38,"y":0},{"s":"e","x":2.28,"y":0},{"s":"e","x":2.16,"y":0},{"s":"e","x":2.06,"y":0},{"s":"e","x":1.96,"y":0},{"s":"e","x":1.86,"y":0},{"s":"e","x":1.74,"y":0},{"s":"e","x":1.64,"y":0},{"s":"e","x":1.54,"y":0},{"s":"e","x":1.42,"y":0},{"s":"e","x":1.32,"y":0},{"s":"e","x":1.22,"y":0},{"s":"e","x":1.1,"y":0},{"s":"e","x":1.0,"y":0},
{"s":"f","x":6.89,"y":0},{"s":"f","x":6.76,"y":0},{"s":"f","x":6.64,"y":0},{"s":"f","x":6.52,"y":0},{"s":"f","x":6.39,"y":0},{"s":"f","x":6.26,"y":0},{"s":"f","x":6.12,"y":0},{"s":"f","x":6.0,"y":0},{"s":"f","x":5.88,"y":0},{"s":"f","x":5.75,"y":0},{"s":"f","x":5.68,"y":0},{"s":"f","x":5.65,"y":55},{"s":"f","x":5.6,"y":146},{"s":"f","x":5.51,"y":329},{"s":"f","x":5.42,"y":292},{"s":"f","x":5.31,"y":310},{"s":"f","x":5.21,"y":329},{"s":"f","x":5.1,"y":347},{"s":"f","x":4.99,"y":365},{"s":"f","x":4.87,"y":383},{"s":"f","x":4.71,"y":390},{"s":"f","x":4.57,"y":383},{"s":"f","x":4.44,"y":365},{"s":"f","x":4.32,"y":383},{"s":"f","x":4.21,"y":320},{"s":"f","x":4.07,"y":310},{"s":"f","x":3.94,"y":274},{"s":"f","x":3.84,"y":219},{"s":"f","x":3.75,"y":237},{"s":"f","x":3.66,"y":146},{"s":"f","x":3.64,"y":0},{"s":"f","x":3.54,"y":0},{"s":"f","x":3.44,"y":0},{"s":"f","x":3.34,"y":0},{"s":"f","x":3.22,"y":0},{"s":"f","x":3.12,"y":0},{"s":"f","x":3.02,"y":0},{"s":"f","x":2.9,"y":0},{"s":"f","x":2.8,"y":0},{"s":"f","x":2.7,"y":0},{"s":"f","x":2.58,"y":0},{"s":"f","x":2.48,"y":0},{"s":"f","x":2.38,"y":0},{"s":"f","x":2.28,"y":0},{"s":"f","x":2.16,"y":0},{"s":"f","x":2.06,"y":0},{"s":"f","x":1.96,"y":0},{"s":"f","x":1.86,"y":0},{"s":"f","x":1.74,"y":0},{"s":"f","x":1.64,"y":0},{"s":"f","x":1.54,"y":0},{"s":"f","x":1.42,"y":0},{"s":"f","x":1.32,"y":0},{"s":"f","x":1.22,"y":0},{"s":"f","x":1.1,"y":0},{"s":"f","x":1.0,"y":0}
]
},
"resolve": {"scale": {"color": "independent"}, "legend": {"color": "independent"}},
"columns": 2,
"align": "none",
"spacing": {"row": 14, "column": 76},
"concat": [
 {"width": 459, "height": 287,
  "encoding": {
   "x": {"field": "x", "type": "quantitative", "scale": {"domain": [7, 1], "nice": false}, "axis": {"values": [1,2,3,4,5,6,7], "format": "d", "title": "Distance along seal area [mm]", "grid": false, "labelPadding": 7.5, "titlePadding": 7}},
   "y": {"field": "y", "type": "quantitative", "scale": {"domain": [0, 3000], "nice": false}, "axis": {"values": [0,500,1000,1500,2000,2500,3000], "format": "d", "title": "Seal contact pressure [MPa]", "grid": true, "gridColor": {"condition": {"test": "datum.value === 3000", "value": "#808080"}, "value": "black"}, "labelPadding": 5, "titlePadding": 5}}
  },
  "layer": [
   {"data": {"values": [{"x": 6.75, "x2": 3.58, "y": 2450, "y2": 3030}]}, "mark": {"type": "rect", "fill": "white"}, "encoding": {"x2": {"field": "x2"}, "y2": {"field": "y2"}}},
   {"data": {"values": [{"x": 6.556, "y": 2550, "t": "Cone-to-cone"}]}, "mark": {"type": "text", "font": "Liberation Serif", "fontWeight": "bold", "fontSize": 37, "align": "left", "baseline": "alphabetic", "color": "black"}, "encoding": {"text": {"field": "t"}}},
   {"data": {"name": "p1"}, "mark": {"type": "line", "strokeWidth": 1.3},
    "encoding": {"color": {"field": "s", "type": "nominal", "scale": {"domain": ["a","b","c","d","e","f"], "range": ["#000000","#FF0000","#3366FF","#00FF00","#FF00FF","#FF9900"]},
     "legend": {"title": null, "legendX": 290, "legendY": 4, "labelExpr": "datum.label==='a'?'MU_MaxSminR:0.001\"':datum.label==='b'?'95 % Comp load':datum.label==='c'?'Make Up unloaded':datum.label==='d'?'95 % Tension load':datum.label==='e'?'Tension +90 % IP':'Make Up unloaded'"}}}},
   {"data": {"name": "p1"}, "transform": [{"filter": "datum.s === 'a'"}], "mark": {"type": "point", "shape": "diamond", "filled": true, "size": 16, "opacity": 1}, "encoding": {"color": {"field": "s", "type": "nominal", "legend": null}}},
   {"data": {"name": "p1"}, "transform": [{"filter": "datum.s === 'b'"}], "mark": {"type": "point", "shape": "square", "filled": true, "size": 24, "opacity": 1}, "encoding": {"color": {"field": "s", "type": "nominal", "legend": null}}},
   {"data": {"name": "p1"}, "transform": [{"filter": "datum.s === 'c'"}], "mark": {"type": "point", "shape": "triangle-up", "filled": true, "size": 22, "opacity": 1}, "encoding": {"color": {"field": "s", "type": "nominal", "legend": null}}},
   {"data": {"name": "p1"}, "transform": [{"filter": "datum.s === 'd'"}], "mark": {"type": "point", "shape": "square", "filled": false, "size": 28, "strokeWidth": 2, "opacity": 1}, "encoding": {"color": {"field": "s", "type": "nominal", "legend": null}}},
   {"data": {"name": "p1"}, "transform": [{"filter": "datum.s === 'e'"}], "mark": {"type": "point", "shape": "square", "filled": true, "size": 12, "opacity": 1}, "encoding": {"color": {"field": "s", "type": "nominal", "legend": null}}},
   {"data": {"name": "p1"}, "transform": [{"filter": "datum.s === 'f'"}], "mark": {"type": "point", "shape": "square", "filled": true, "size": 20, "opacity": 1}, "encoding": {"color": {"field": "s", "type": "nominal", "legend": null}}}
  ]},
 {"width": 457, "height": 291,
  "view": {"stroke": null},
  "encoding": {
   "x": {"field": "x", "type": "quantitative", "scale": {"domain": [7, 1], "nice": false}, "axis": {"values": [2,3,4,5,6,7], "format": "d", "title": "Distance along seal area [mm]", "grid": false, "labelPadding": 6.5, "titlePadding": 8}},
   "y": {"field": "y", "type": "quantitative", "scale": {"domain": [0, 3095.7], "nice": false}, "axis": {"values": [0,500,1000,1500,2000,2500,3000], "format": "d", "title": "Seal contact pressure [MPa]", "domain": false, "grid": true, "gridColor": {"condition": {"test": "datum.value === 3000", "value": "#808080"}, "value": "black"}, "labelPadding": 6, "titlePadding": 4}}
  },
  "layer": [
   {"data": {"values": [{"x": 6.87, "x2": 3.54, "y": 2450, "y2": 3030}]}, "mark": {"type": "rect", "fill": "white"}, "encoding": {"x2": {"field": "x2"}, "y2": {"field": "y2"}}},
   {"data": {"values": [{"x": 6.67, "y": 2638, "t": "R 48 taper 1/6"}]}, "mark": {"type": "text", "font": "Liberation Serif", "fontWeight": "bold", "fontSize": 37, "align": "left", "baseline": "alphabetic", "color": "black"}, "encoding": {"text": {"field": "t"}}},
   {"data": {"values": [{"x": 7, "y": 0, "y2": 3000}]}, "mark": {"type": "rule", "color": "black", "strokeWidth": 1}, "encoding": {"y2": {"field": "y2"}}},
   {"data": {"name": "p2"}, "mark": {"type": "line", "strokeWidth": 1.3},
    "encoding": {"color": {"field": "s", "type": "nominal", "scale": {"domain": ["a","b","c","d","e","f"], "range": ["#000000","#FF0000","#3366FF","#00FF00","#FF00FF","#FFC000"]},
     "legend": {"title": null, "legendX": 264, "legendY": 5, "labelExpr": "datum.label==='a'?'MU_MaxSminR:0.001\"':datum.label==='b'?'95 % Comp load':datum.label==='c'?'Make Up unloaded':datum.label==='d'?'95 % Tensionload':datum.label==='e'?'Tension + 90 % IP':'Make Up unloaded'"}}}},
   {"data": {"name": "p2"}, "transform": [{"filter": "datum.s === 'a'"}], "mark": {"type": "point", "shape": "diamond", "filled": true, "size": 16, "opacity": 1}, "encoding": {"color": {"field": "s", "type": "nominal", "legend": null}}},
   {"data": {"name": "p2"}, "transform": [{"filter": "datum.s === 'b'"}], "mark": {"type": "point", "shape": "square", "filled": true, "size": 24, "opacity": 1}, "encoding": {"color": {"field": "s", "type": "nominal", "legend": null}}},
   {"data": {"name": "p2"}, "transform": [{"filter": "datum.s === 'c'"}], "mark": {"type": "point", "shape": "triangle-up", "filled": true, "size": 22, "opacity": 1}, "encoding": {"color": {"field": "s", "type": "nominal", "legend": null}}},
   {"data": {"name": "p2"}, "transform": [{"filter": "datum.s === 'd'"}], "mark": {"type": "point", "shape": "circle", "filled": false, "size": 32, "strokeWidth": 1.3, "opacity": 1}, "encoding": {"color": {"field": "s", "type": "nominal", "legend": null}}},
   {"data": {"name": "p2"}, "transform": [{"filter": "datum.s === 'e'"}], "mark": {"type": "point", "shape": "cross", "filled": true, "size": 14, "opacity": 1}, "encoding": {"color": {"field": "s", "type": "nominal", "legend": null}}},
   {"data": {"name": "p2"}, "transform": [{"filter": "datum.s === 'f'"}], "mark": {"type": "point", "shape": "circle", "filled": true, "size": 24, "opacity": 1}, "encoding": {"color": {"field": "s", "type": "nominal", "legend": null}}}
  ]},
 {"width": 472, "height": 287,
  "view": {"stroke": null},
  "encoding": {
   "x": {"field": "x", "type": "quantitative", "scale": {"domain": [7.13, 1], "nice": false}, "axis": {"values": [1,2,3,4,5,6,7], "format": "d", "title": "Distance along seal area [mm]", "grid": false, "labelPadding": 9.5, "titlePadding": 8}},
   "y": {"field": "y", "type": "quantitative", "scale": {"domain": [0, 3000], "nice": false}, "axis": {"values": [0,500,1000,1500,2000,2500,3000], "format": "d", "title": "Seal contact pressure [MPa]", "offset": -10, "grid": true, "gridColor": {"condition": {"test": "datum.value === 3000", "value": "#808080"}, "value": "black"}, "gridWidth": {"condition": [{"test": "datum.value === 500", "value": 3.5}, {"test": "datum.value === 2500", "value": 2}], "value": 1}, "labelPadding": 14, "titlePadding": 2.5}}
  },
  "layer": [
   {"data": {"values": [{"x": 7.13, "x2": 3.86, "y": 2485, "y2": 3146}]}, "mark": {"type": "rect", "fill": "white"}, "encoding": {"x2": {"field": "x2"}, "y2": {"field": "y2"}}},
   {"data": {"values": [{"x": 6.97, "y": 2678, "t": "R 64 taper 1/8"}]}, "mark": {"type": "text", "font": "Liberation Serif", "fontWeight": "bold", "fontSize": 37, "align": "left", "baseline": "alphabetic", "color": "black"}, "encoding": {"text": {"field": "t"}}},
   {"data": {"values": [{"x": 1, "y": 0, "y2": 3000}]}, "mark": {"type": "rule", "color": "#808080", "strokeWidth": 1}, "encoding": {"y2": {"field": "y2"}}},
   {"data": {"name": "p3"}, "mark": {"type": "line", "strokeWidth": 1.3},
    "encoding": {"color": {"field": "s", "type": "nominal", "scale": {"domain": ["a","b","c","d","e","f"], "range": ["#000000","#FF0000","#3366FF","#00FF00","#FF00FF","#FFCC00"]},
     "legend": {"title": null, "legendX": 282, "legendY": -12, "labelExpr": "datum.label==='a'?'MU_MaxSmin R:0.001\"':datum.label==='b'?'95 % Comp load':datum.label==='c'?'Make Up unloaded':datum.label==='d'?'95 % Tension load':datum.label==='e'?'Tension + 90% IP':'Make Up unloaded'"}}}},
   {"data": {"name": "p3"}, "transform": [{"filter": "datum.s === 'a'"}], "mark": {"type": "point", "shape": "diamond", "filled": true, "size": 16, "opacity": 1}, "encoding": {"color": {"field": "s", "type": "nominal", "legend": null}}},
   {"data": {"name": "p3"}, "transform": [{"filter": "datum.s === 'b'"}], "mark": {"type": "point", "shape": "square", "filled": true, "size": 24, "opacity": 1}, "encoding": {"color": {"field": "s", "type": "nominal", "legend": null}}},
   {"data": {"name": "p3"}, "transform": [{"filter": "datum.s === 'c'"}], "mark": {"type": "point", "shape": "triangle-up", "filled": true, "size": 22, "opacity": 1}, "encoding": {"color": {"field": "s", "type": "nominal", "legend": null}}},
   {"data": {"name": "p3"}, "transform": [{"filter": "datum.s === 'd'"}], "mark": {"type": "point", "shape": "circle", "filled": false, "size": 32, "strokeWidth": 1.3, "opacity": 1}, "encoding": {"color": {"field": "s", "type": "nominal", "legend": null}}},
   {"data": {"name": "p3"}, "transform": [{"filter": "datum.s === 'e'"}], "mark": {"type": "point", "shape": "square", "filled": true, "size": 12, "opacity": 1}, "encoding": {"color": {"field": "s", "type": "nominal", "legend": null}}},
   {"data": {"name": "p3"}, "transform": [{"filter": "datum.s === 'f'"}], "mark": {"type": "point", "shape": "square", "filled": true, "size": 20, "opacity": 1}, "encoding": {"color": {"field": "s", "type": "nominal", "legend": null}}}
  ]},
 {"width": 437, "height": 280,
  "encoding": {
   "x": {"field": "x", "type": "quantitative", "scale": {"domain": [7, 1], "nice": false}, "axis": {"values": [1,2,3,4,5,6,7], "format": "d", "title": "Distance along seal area [mm]", "grid": false, "labelPadding": 7.5, "titlePadding": 9}},
   "y": {"field": "y", "type": "quantitative", "scale": {"domain": [0, 3000], "nice": false}, "axis": {"values": [0,500,1000,1500,2000,2500,3000], "format": "d", "title": "Seal contact pressure [MPa]", "grid": true, "gridColor": {"condition": {"test": "datum.value === 3000", "value": "#808080"}, "value": "black"}, "gridWidth": {"condition": {"test": "datum.value === 500 || datum.value === 2000 || datum.value === 2500", "value": 3}, "value": 1}, "labelPadding": 4.5, "titlePadding": 2}}
  },
  "layer": [
   {"data": {"values": [{"x": 4.69, "x2": 0.9, "y": 850, "y2": 1510}]}, "mark": {"type": "rect", "fill": "white"}, "encoding": {"x2": {"field": "x2"}, "y2": {"field": "y2"}}},
   {"data": {"values": [{"x": 4.49, "y": 1033, "t": "R 96 taper 1/12"}]}, "mark": {"type": "text", "font": "Liberation Serif", "fontWeight": "bold", "fontSize": 37, "align": "left", "baseline": "alphabetic", "color": "black"}, "encoding": {"text": {"field": "t"}}},
   {"data": {"name": "p4"}, "mark": {"type": "line", "strokeWidth": 1.3},
    "encoding": {"color": {"field": "s", "type": "nominal", "scale": {"domain": ["a","b","c","d","e","f"], "range": ["#000000","#FF0000","#3366FF","#00FF00","#FF00FF","#FFCC00"]},
     "legend": {"title": null, "legendX": 198.5, "legendY": -12, "labelExpr": "datum.label==='a'?'MU_MaxSminR:0.001\"':datum.label==='b'?'95 % Comp load':datum.label==='c'?'Make Up unloaded':datum.label==='d'?'95 % Tensionload':datum.label==='e'?'Tension + 90% IP':'Make Up unloaded'"}}}},
   {"data": {"name": "p4"}, "transform": [{"filter": "datum.s === 'a'"}], "mark": {"type": "point", "shape": "diamond", "filled": true, "size": 16, "opacity": 1}, "encoding": {"color": {"field": "s", "type": "nominal", "legend": null}}},
   {"data": {"name": "p4"}, "transform": [{"filter": "datum.s === 'b'"}], "mark": {"type": "point", "shape": "square", "filled": true, "size": 24, "opacity": 1}, "encoding": {"color": {"field": "s", "type": "nominal", "legend": null}}},
   {"data": {"name": "p4"}, "transform": [{"filter": "datum.s === 'c'"}], "mark": {"type": "point", "shape": "triangle-up", "filled": true, "size": 22, "opacity": 1}, "encoding": {"color": {"field": "s", "type": "nominal", "legend": null}}},
   {"data": {"name": "p4"}, "transform": [{"filter": "datum.s === 'd'"}], "mark": {"type": "point", "shape": "circle", "filled": false, "size": 32, "strokeWidth": 1.3, "opacity": 1}, "encoding": {"color": {"field": "s", "type": "nominal", "legend": null}}},
   {"data": {"name": "p4"}, "transform": [{"filter": "datum.s === 'e'"}], "mark": {"type": "point", "shape": "square", "filled": true, "size": 12, "opacity": 1}, "encoding": {"color": {"field": "s", "type": "nominal", "legend": null}}},
   {"data": {"name": "p4"}, "transform": [{"filter": "datum.s === 'f'"}], "mark": {"type": "point", "shape": "cross", "filled": true, "size": 22, "opacity": 1}, "encoding": {"color": {"field": "s", "type": "nominal", "legend": null}}}
  ]}
]
}
